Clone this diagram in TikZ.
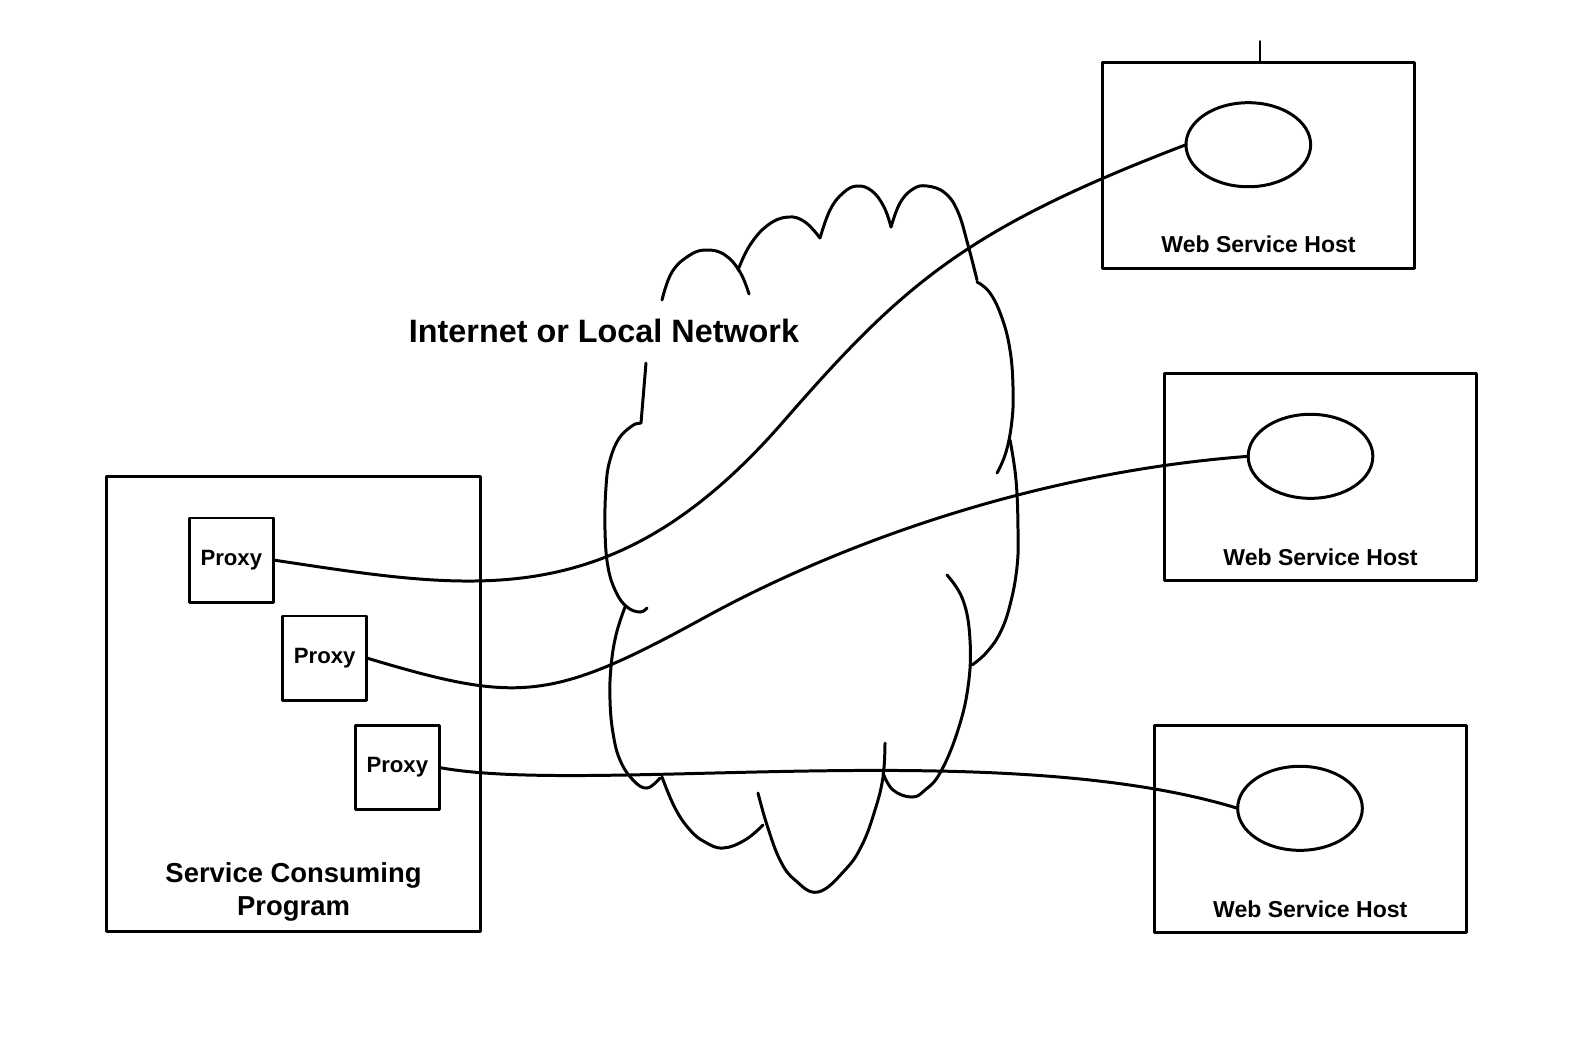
\documentclass[tikz,border=0pt]{standalone}
\usepackage{fontspec}
\setmainfont{Liberation Sans}
\usepackage{tikz}
\usetikzlibrary{arrows,shapes.geometric}

\begin{document}
\begin{tikzpicture}[x=0.01cm,y=-0.01cm,line width=0.85pt,line join=round,
                    line cap=round]
  \tikzstyle{every node}=[inner sep=0pt,outer sep=0pt]
  \tikzstyle{program}=[draw,rectangle,minimum width=3.74cm,minimum height=4.55cm]
  \tikzstyle{proxy}=[draw,rectangle,minimum size=0.84cm,
                     font=\fontsize{6.3}{7.5}\selectfont\bfseries]
  \tikzstyle{host}=[draw,rectangle,minimum width=3.115cm,minimum height=2.065cm]
  \tikzstyle{service}=[draw,ellipse,minimum width=1.246cm,minimum height=0.84cm]
  \tikzstyle{hostname}=[font=\fontsize{6.55}{8}\selectfont\bfseries]
  \tikzstyle{cloudline}=[draw]

  \useasboundingbox (0,0) rectangle (1588,1041);

  % consumer side
  \node[program]  (scp)     at (293.7,704.3)  {};
  \node[proxy]    (p1)      at (231.3,560)    {Proxy};
  \node[proxy]    (p2)      at (324.7,658)    {Proxy};
  \node[proxy]    (p3)      at (397.3,767.5)  {Proxy};
  \node[align=center,font=\fontsize{7.8}{9.4}\selectfont\bfseries]
                  (scpname) at (293.5,892)    {Service Consuming\\Program};

  % hosts
  \node[host]     (h1)      at (1258.5,165.5) {};
  \node[service]  (s1)      at (1248.3,144.7) {};
  \node[hostname] (n1)      at (1258.5,244.5) {Web Service Host};
  \node[host]     (h2)      at (1320.5,476.7) {};
  \node[service]  (s2)      at (1310.5,456.3) {};
  \node[hostname] (n2)      at (1320.5,557.5) {Web Service Host};
  \node[host]     (h3)      at (1310.3,829.2) {};
  \node[service]  (s3)      at (1300,808.3)   {};
  \node[hostname] (n3)      at (1310.3,909)   {Web Service Host};

  \coordinate (tick) at (1260,41);
  \draw[line width=0.4pt] (tick) -- (tick |- h1.north);

  % the network cloud
  \node[font=\fontsize{9.2}{11}\selectfont\bfseries] (net) at (604,331)
       {Internet or Local Network};
  \path[cloudline] plot[smooth,tension=0.7] coordinates {(662,300) (672,272)
       (690,255) (707,250) (725,255) (740,272) (749,294)};
  \path[cloudline] plot[smooth,tension=0.7] coordinates {(738,270) (750,245)
       (768,225) (788,217) (805,222) (820,238)};
  \path[cloudline] plot[smooth,tension=0.7] coordinates {(820,238) (830,210)
       (843,193) (857,186) (872,191) (884,207) (891,227)};
  \path[cloudline] plot[smooth,tension=0.7] coordinates {(891,227) (900,203)
       (913,189) (927,186) (945,193) (958,212) (968,245) (977,280)};
  \path[cloudline] plot[smooth,tension=0.7] coordinates {(977,282) (990,293)
       (1002,318) (1010,350) (1013,387) (1012,420) (1006,452) (997,473)};
  \path[cloudline] plot[smooth,tension=0.7] coordinates {(1010,440) (1016,480)
       (1018,530) (1017,567) (1010,605) (1000,633) (986,653) (972,665)};
  \path[cloudline] plot[smooth,tension=0.7] coordinates {(947,575) (963,600)
       (970,640) (968,687) (957,733) (940,773) (925,790) (912,797) (893,790)
       (883,773)};
  \path[cloudline] plot[smooth,tension=0.7] coordinates {(885,743) (883,777)
       (875,810) (862,845) (845,870) (818,892) (795,880) (780,860) (767,825)
       (758,793)};
  \path[cloudline] plot[smooth,tension=0.7] coordinates {(763,825) (745,840)
       (723,848) (705,842) (690,830) (675,808) (662,777)};
  \path[cloudline] plot[smooth,tension=0.7] coordinates {(660,778) (647,788)
       (633,780) (620,760) (613,733) (610,700) (611,667) (616,635) (625,607)};
  \path[cloudline] (646,363) -- (641,423) -- (635,424);
  \path[cloudline] plot[smooth,tension=0.7] coordinates {(635,424) (620,437)
       (610,460) (606,487) (605,530) (608,567) (616,592) (627,607) (640,612)
       (647,608)};

  % links from the proxies to the services
  \coordinate (c1) at (783,422);
  \coordinate (c2) at (700,620);
  \draw (p1.east) .. controls +(200,30) and +(-170,195) .. (c1)
                  .. controls +(120,-138) and +(-220,84) .. (s1.west);
  \draw (p2.east) .. controls +(150,45) and +(-150,82) .. (c2)
                  .. controls +(150,-83) and +(-200,15) .. (s2.west);
  \draw (p3.east) .. controls +(150,28) and +(-238,-73) .. (s3.west);
\end{tikzpicture}
\end{document}
